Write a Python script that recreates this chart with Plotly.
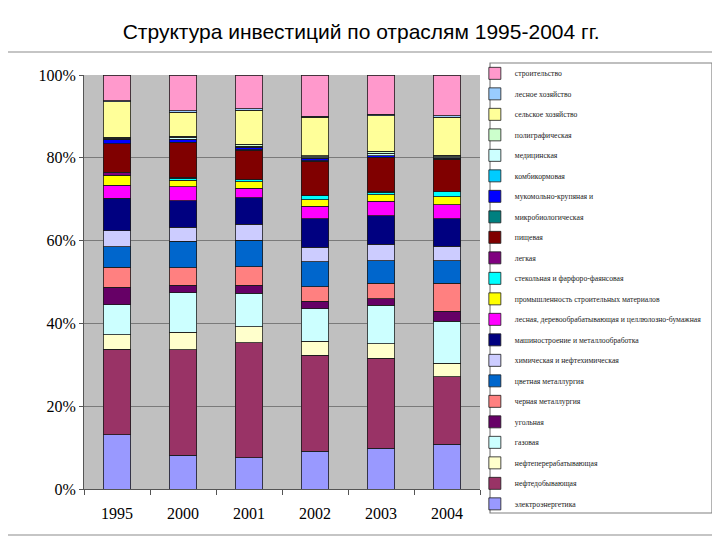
import plotly.graph_objects as go

years = ["1995", "2000", "2001", "2002", "2003", "2004"]

# stack order, bottom to top
sectors = [
    "электроэнергетика",
    "нефтедобывающая",
    "нефтеперерабатывающая",
    "газовая",
    "угольная",
    "черная металлургия",
    "цветная металлургия",
    "химическая и нефтехимическая",
    "машиностроение и металлообработка",
    "лесная, деревообрабатывающая и целлюлозно-бумажная",
    "промышленность строительных материалов",
    "стекольная и фарфоро-фаянсовая",
    "легкая",
    "пищевая",
    "микробиологическая",
    "мукомольно-крупяная и",
    "комбикормовая",
    "медицинская",
    "полиграфическая",
    "сельское хозяйство",
    "лесное хозяйство",
    "строительство",
]

elektro = [13.1, 8.2, 7.6, 9.1, 9.9, 10.9]
neftedob = [20.8, 25.5, 27.7, 23.1, 21.8, 16.4]
neftepererab = [3.5, 4.2, 3.8, 3.4, 3.4, 3.2]
gazovaya = [7.2, 9.6, 8.1, 7.9, 9.4, 10.2]
ugolnaya = [4.3, 1.8, 2.0, 1.8, 1.5, 2.4]
chernaya = [4.8, 4.3, 4.4, 3.5, 3.8, 6.8]
tsvetnaya = [5.0, 6.4, 6.4, 6.0, 5.5, 5.5]
khimiya = [3.9, 3.4, 3.9, 3.5, 3.9, 3.5]
mashinostr = [7.8, 6.4, 6.4, 6.8, 6.9, 6.7]
lesnaya = [3.2, 3.3, 2.3, 3.1, 3.5, 3.4]
stroymat = [2.3, 1.6, 1.5, 1.5, 1.6, 1.9]
steklo = [0.1, 0.5, 0.5, 1.0, 0.6, 1.2]
legkaya = [0.8, 0.3, 0.1, 0.1, 0.1, 0.1]
pishchevaya = [6.8, 8.3, 7.1, 8.2, 8.3, 7.8]
mikrobio = [0.1, 0.1, 0.1, 0.1, 0.1, 0.1]
mukomol = [0.9, 0.6, 0.6, 0.6, 0.3, 0.2]
kombikorm = [0.1, 0.1, 0.1, 0.1, 0.1, 0.1]
meditsina = [0.3, 0.5, 0.1, 0.3, 0.6, 0.2]
poligraf = [0.2, 0.3, 0.5, 0.2, 0.4, 0.4]
selkhoz = [8.6, 5.8, 8.2, 9.3, 8.6, 9.3]
leskhoz = [0.3, 0.3, 0.4, 0.3, 0.4, 0.3]
stroitelstvo = [6.2, 8.7, 8.1, 9.9, 9.5, 9.9]

values = [
    elektro, neftedob, neftepererab, gazovaya, ugolnaya, chernaya, tsvetnaya,
    khimiya, mashinostr, lesnaya, stroymat, steklo, legkaya, pishchevaya,
    mikrobio, mukomol, kombikorm, meditsina, poligraf, selkhoz, leskhoz,
    stroitelstvo,
]

# old Excel chart palette
colors = [
    "#9999FF", "#993366", "#FFFFCC", "#CCFFFF", "#660066", "#FF8080",
    "#0066CC", "#CCCCFF", "#000080", "#FF00FF", "#FFFF00", "#00FFFF",
    "#800080", "#800000", "#008080", "#0000FF", "#00CCFF", "#CCFFFF",
    "#CCFFCC", "#FFFF99", "#99CCFF", "#FF99CC",
]

fig = go.Figure()
for i, (name, vals, col) in enumerate(zip(sectors, values, colors)):
    fig.add_trace(go.Bar(
        x=years, y=vals, name=name,
        legendgroup=str(i), legendrank=100 - i,
        marker=dict(color=col, line=dict(color="#1a1a1a", width=0.8)),
    ))

# page has an 8px body margin, so the figure is 712x532
fig.update_layout(
    width=712, height=532,
    barmode="stack", barnorm="percent", bargap=0.59,
    margin=dict(l=76, r=240, t=67, b=51, autoexpand=False),
    paper_bgcolor="white",
    plot_bgcolor="#C0C0C0",
    font=dict(family="Liberation Serif", color="#000000"),
    title=dict(
        text="Структура инвестиций по отраслям 1995-2004 гг.",
        font=dict(family="Liberation Sans", size=21, color="#000000"),
        x=0.496, xref="container", y=0.955, yref="container",
        xanchor="center", yanchor="middle",
    ),
    legend=dict(
        x=0.987, y=1.039, xanchor="left", yanchor="top",
        traceorder="grouped", tracegroupgap=1.5,
        font=dict(family="Liberation Serif", size=7.7, color="#1a1a1a"),
        bgcolor="rgba(0,0,0,0)", borderwidth=0,
        itemwidth=30,
    ),
    showlegend=True,
)
try:
    fig.update_layout(legend_maxheight=500)
except ValueError:
    pass

fig.update_yaxes(
    range=[0, 100], dtick=20, ticksuffix="%",
    showgrid=True, gridcolor="#7a7a7a", gridwidth=1,
    showline=True, linecolor="#555555", linewidth=1,
    ticks="outside", ticklen=4, tickcolor="#555555",
    tickfont=dict(family="Liberation Serif", size=16),
    zeroline=False,
)
fig.update_xaxes(
    showline=True, linecolor="#555555", linewidth=1,
    ticks="outside", ticklen=5, tickcolor="#555555", tickson="boundaries",
    tickfont=dict(family="Liberation Serif", size=16),
    ticklabelstandoff=10,
)

# outer frame around chart and legend
fig.add_shape(
    type="rect", xref="paper", yref="paper",
    x0=-0.1995, x1=1.5934, y0=-0.1111, y1=1.0556,
    line=dict(color="#8c8c8c", width=1.2), layer="below",
)
# legend box
fig.add_shape(
    type="rect", xref="paper", yref="paper",
    x0=1.0253, x1=1.5859, y0=-0.058, y1=1.029,
    line=dict(color="#808080", width=1.2), fillcolor="white", layer="below",
)

fig.write_html("out.html")
